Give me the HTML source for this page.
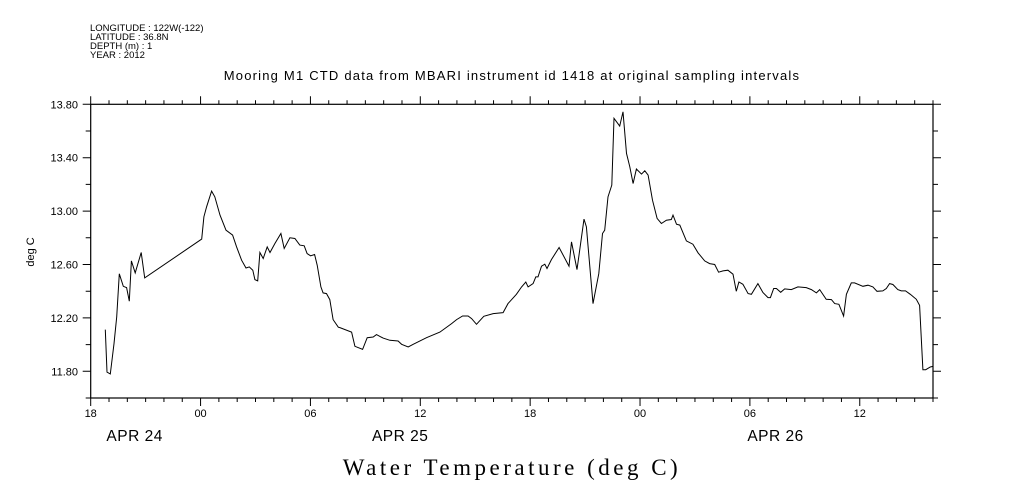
<!DOCTYPE html>
<html><head><meta charset="utf-8"><style>
html,body{margin:0;padding:0;background:#fff;}
svg{display:block;}
text{font-family:"Liberation Sans",sans-serif;fill:#000;}
</style></head><body>
<svg id="chart" width="1009" height="504" viewBox="0 0 1009 504">
<g font-size="9.5">
<text x="90" y="31">LONGITUDE : 122W(-122)</text>
<text x="90" y="40">LATITUDE : 36.8N</text>
<text x="90" y="49">DEPTH (m) : 1</text>
<text x="90" y="58">YEAR : 2012</text>
</g>
<text x="512" y="80" text-anchor="middle" font-size="13" letter-spacing="1.2">Mooring M1 CTD data from MBARI instrument id 1418 at original sampling intervals</text>
<text x="0" y="0" transform="translate(34,252) rotate(-90)" text-anchor="middle" font-size="11">deg C</text>
<text x="512" y="475" text-anchor="middle" font-size="23" style="font-family:'Liberation Serif',serif" letter-spacing="3.5">Water Temperature (deg C)</text>
<g id="axes"></g>
<path id="series" fill="none" stroke="#000" stroke-width="1"/>
</svg>
<script>
const hours=[0.80,0.89,1.07,1.27,1.42,1.56,1.78,1.96,2.11,2.22,2.43,2.76,2.95,6.06,6.18,6.33,6.6,6.78,7.06,7.39,7.75,7.97,8.24,8.48,8.66,8.85,8.97,9.12,9.24,9.42,9.64,9.79,10.06,10.39,10.57,10.88,11.15,11.42,11.66,11.82,12.01,12.23,12.37,12.57,12.69,12.88,13.06,13.24,13.52,
13.61,14.25,14.43,14.85,15.10,15.43,15.61,15.97,16.34,16.79,16.98,17.34,17.61,18.34,19.07,19.71,19.98,20.31,20.61,20.80,21.07,21.47,21.98,22.52,22.79,23.25,23.53,23.76,23.89,24.16,24.31,24.43,
24.62,24.80,24.92,25.16,25.58,26.12,26.26,26.56,26.94,27.07,27.43,27.75,27.95,28.07,28.25,28.46,28.58,28.89,29.07,29.26,29.44,29.62,29.80,30.08,30.26,30.44,30.68,30.93,31.17,31.44,31.71,31.80,31.99,32.17,32.53,32.89,33.17,33.53,33.80,34.08,34.29,34.53,34.80,35.08,35.26,35.40,35.62,35.90,36.08,36.44,36.71,36.99,37.12,37.30,37.45,37.68,37.90,38.26,38.62,39.08,39.36,39.63,39.81,40.17,40.45,40.63,40.86,41.12,41.27,41.54,41.72,42.17,42.45,42.72,42.94,43.26,43.45,43.63,43.81,44.08,44.27,44.50,44.76,45.09,45.27,45.45,45.60,45.85,45.99];
const temps=[12.112,11.794,11.78,12.007,12.207,12.53,12.437,12.427,12.325,12.627,12.537,12.69,12.50,12.79,12.957,13.032,13.15,13.107,12.97,12.857,12.82,12.732,12.632,12.574,12.582,12.557,12.487,12.477,12.69,12.645,12.732,12.69,12.757,12.832,12.72,12.80,12.795,12.745,12.74,12.682,12.665,12.675,12.595,12.432,12.387,12.382,12.337,12.187,12.13,
12.127,12.094,11.987,11.964,12.052,12.057,12.075,12.049,12.032,12.027,12.002,11.982,12.002,12.052,12.094,12.157,12.187,12.214,12.214,12.195,12.152,12.212,12.232,12.240,12.307,12.377,12.432,12.469,12.432,12.457,12.507,12.507,
12.587,12.602,12.570,12.637,12.727,12.587,12.769,12.562,12.940,12.882,12.307,12.532,12.832,12.857,13.107,13.195,13.695,13.637,13.744,13.432,13.332,13.207,13.315,13.277,13.302,13.270,13.082,12.945,12.907,12.932,12.937,12.970,12.902,12.895,12.777,12.752,12.687,12.627,12.607,12.600,12.542,12.552,12.557,12.527,12.399,12.469,12.452,12.382,12.377,12.457,12.390,12.352,12.352,12.420,12.420,12.392,12.417,12.412,12.432,12.427,12.412,12.387,12.412,12.339,12.337,12.307,12.302,12.214,12.377,12.462,12.462,12.437,12.445,12.432,12.399,12.402,12.420,12.457,12.450,12.412,12.402,12.402,12.377,12.339,12.294,11.812,11.812,11.832,11.837];
const yTickLabels=["11.80","12.20","12.60","13.00","13.40","13.80"];
const xTickLabels=["18","00","06","12","18","00","06","12"];
const dateLabels=["APR 24","APR 25","APR 26"];
const dateLabelHours=[2.4,16.9,37.4];

const L=90.7,R=933,T=104.3,B=398,HMAX=46,YMIN=11.6,YMAX=13.8;
const sx=h=>L+h*(R-L)/HMAX;
const sy=v=>B-(v-YMIN)*(B-T)/(YMAX-YMIN);
const NS="http://www.w3.org/2000/svg";
const ax=document.getElementById('axes');
function mk(tag,attrs,parent){const e=document.createElementNS(NS,tag);for(const k in attrs)e.setAttribute(k,attrs[k]);(parent||ax).appendChild(e);return e;}
const frame=mk('rect',{x:L,y:T,width:R-L,height:B-T,fill:'none',stroke:'#000','stroke-width':1.2});


let d='';
for(let h=0;h<=HMAX;h++){const x=sx(h);const maj=(h%6===0);const len=maj?8:4;
 d+=`M${x},${B}v${len}M${x},${T}v${-len}`;}
for(let i=0;i<=11;i++){const v=YMIN+i*0.2;const y=sy(v);const len=(i%2===1)?8:5;
 d+=`M${L},${y}h${-len}M${R},${y}h${len}`;}
const ticks=mk('path',{d:d,stroke:'#000','stroke-width':1,fill:'none'});


yTickLabels.forEach((s,i)=>{const t=mk('text',{x:78,y:sy(parseFloat(s))+4,'text-anchor':'end','font-size':11});t.textContent=s;
 
 });
xTickLabels.forEach((s,i)=>{const t=mk('text',{x:sx(i*6),y:417,'text-anchor':'middle','font-size':11});t.textContent=s;
 
 });
dateLabels.forEach((s,i)=>{const t=mk('text',{x:sx(dateLabelHours[i]),y:441,'text-anchor':'middle','font-size':15.5,'letter-spacing':0.5});t.textContent=s;
 
 });
let p='';
hours.forEach((h,i)=>{p+=(i?'L':'M')+sx(h).toFixed(1)+','+sy(temps[i]).toFixed(1);});
document.getElementById('series').setAttribute('d',p);
</script>
</body></html>
